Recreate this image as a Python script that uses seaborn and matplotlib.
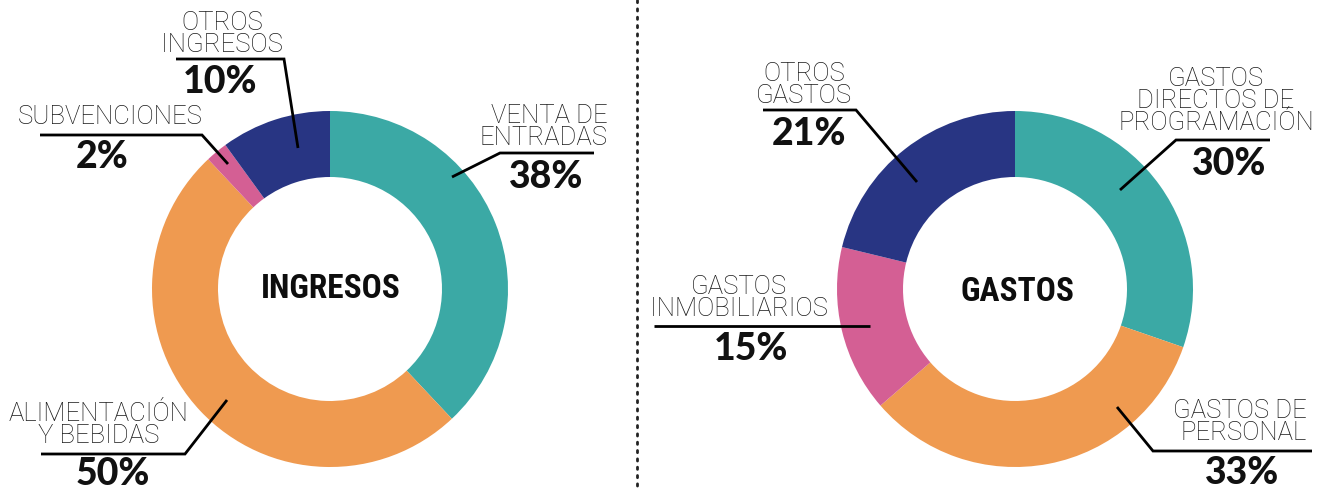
import matplotlib
matplotlib.use("Agg")
import matplotlib.pyplot as plt
import seaborn as sns

sns.set_theme(style="white")
plt.rcParams['font.family'] = ['Lato', 'DejaVu Sans']

# ---- data ----
ingresos_labels = ["VENTA DE\nENTRADAS", "ALIMENTACIÓN\nY BEBIDAS", "SUBVENCIONES", "OTROS\nINGRESOS"]
ingresos_values = [38, 50, 2, 10]
gastos_labels = ["GASTOS\nDIRECTOS DE\nPROGRAMACIÓN", "GASTOS DE\nPERSONAL", "GASTOS\nINMOBILIARIOS", "OTROS\nGASTOS"]
gastos_values = [30, 33, 15, 21]
palette = sns.color_palette(["#3BA9A5", "#EF9A50", "#D45F94", "#283583"])

W, H = 1321, 490
fig = plt.figure(figsize=(W / 100, H / 100), dpi=100)
ax = fig.add_axes([0, 0, 1, 1])

R_OUT, R_IN = 178, 112
for center, vals in (((330, 289), ingresos_values), ((1015, 289), gastos_values)):
    ax.pie(vals, colors=palette, center=center, radius=R_OUT,
           startangle=-90, counterclock=True,
           wedgeprops=dict(width=R_OUT - R_IN, linewidth=0))

ax.set_xlim(0, W)
ax.set_ylim(H, 0)
ax.set_aspect('equal')
ax.axis('off')

# center titles
title_font = dict(family=['Roboto Condensed', 'DejaVu Sans'], fontweight='bold',
                  fontsize=24, ha='center', va='center', color='#0d0d0d')
ax.text(331, 289, "INGRESOS", **title_font)
ax.text(1017, 292, "GASTOS", **title_font)

lab_kw = dict(family=['Roboto', 'DejaVu Sans'], fontsize=18.5, fontweight='light',
              color='#1a1a1a', linespacing=0.9)
pct_kw = dict(fontsize=27, fontweight='black', color='#111111', ha='center', va='center')

def label(text, x, ytop, ha='center'):
    ax.text(x, ytop, text, ha=ha, va='top', **lab_kw)

def leader(pts):
    xs = [p[0] for p in pts]
    ys = [p[1] for p in pts]
    ax.plot(xs, ys, color='black', lw=2, solid_capstyle='butt', solid_joinstyle='miter')

# --- Ingresos labels ---
label(ingresos_labels[3], 222, 11)
leader([(176, 59), (284, 59), (298, 148)])
ax.text(220, 82, f"{ingresos_values[3]}%", **pct_kw)

label(ingresos_labels[2], 110, 105)
leader([(40, 135), (202, 135), (228, 164)])
ax.text(102, 157, f"{ingresos_values[2]}%", **pct_kw)

label(ingresos_labels[0], 608, 104, ha='right')
leader([(594, 153), (500, 153), (452, 177)])
ax.text(546, 177, f"{ingresos_values[0]}%", **pct_kw)

label(ingresos_labels[1], 99, 402)
leader([(41, 454), (185, 454), (227, 400)])
ax.text(113, 474, f"{ingresos_values[1]}%", **pct_kw)

# --- Gastos labels ---
label(gastos_labels[3], 804, 62)
leader([(763, 110), (856, 110), (917, 182)])
ax.text(809, 134, f"{gastos_values[3]}%", **pct_kw)

label(gastos_labels[0], 1216, 67)
leader([(1270, 140), (1176, 140), (1120, 190)])
ax.text(1229, 164, f"{gastos_values[0]}%", **pct_kw)

label(gastos_labels[2], 739, 275)
leader([(654, 326), (870, 326)])
ax.text(751, 349, f"{gastos_values[2]}%", **pct_kw)

label(gastos_labels[1], 1307, 399, ha='right')
leader([(1312, 451), (1153, 451), (1117, 407)])
ax.text(1242, 473, f"{gastos_values[1]}%", **pct_kw)

# dotted separator
ax.plot([637, 637], [0, H], color='#222222', lw=2, linestyle=(0, (0.8, 2.2)),
        dash_capstyle='round')

fig.savefig("out.png", dpi=100)
